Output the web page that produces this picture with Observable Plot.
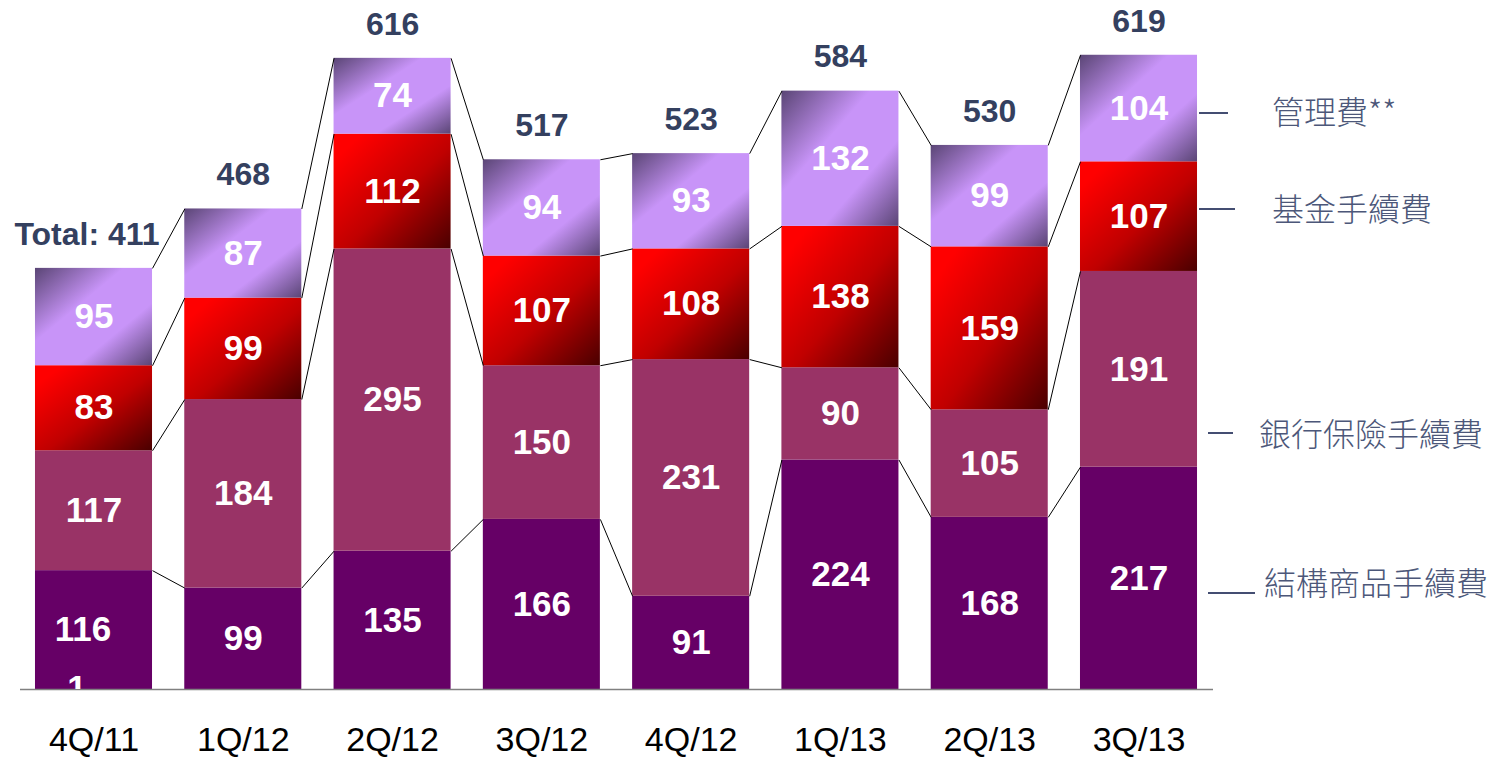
<!DOCTYPE html>
<html>
<head>
<meta charset="utf-8">
<script src="https://cdn.jsdelivr.net/npm/d3@7"></script>
<script src="https://cdn.jsdelivr.net/npm/@observablehq/plot@0.6"></script>
<style>
  html, body { margin: 0; padding: 0; background: #fff; }
  #wrap { position: relative; width: 1490px; height: 757px; overflow: hidden; }
  .lg { position: absolute; font-family: "Noto Sans CJK TC", "Noto Sans CJK SC", sans-serif; font-size: 32px; font-weight: 300; color: #4c5779; line-height: 1; transform: translateY(-50%); white-space: nowrap; }
  .dash { position: absolute; border-top: 2px solid #444e72; height: 0; }
</style>
</head>
<body>
<div id="wrap"></div>
<script>
// ---- data ----
const quarters = ["4Q/11", "1Q/12", "2Q/12", "3Q/12", "4Q/12", "1Q/13", "2Q/13", "3Q/13"];
const seriesNames = ["結構商品手續費", "銀行保險手續費", "基金手續費", "管理費**"];
const structured = [116, 99, 135, 166, 91, 224, 168, 217];
const bancassurance = [117, 184, 295, 150, 231, 90, 105, 191];
const fundFees = [83, 99, 112, 107, 108, 138, 159, 107];
const mgmtFees = [95, 87, 74, 94, 93, 132, 99, 104];
const totals = [411, 468, 616, 517, 523, 584, 530, 619];

// ---- derived tables ----
const seriesValues = [structured, bancassurance, fundFees, mgmtFees];
const fills = ["#660066", "#993366", "url(#gradRed)", "url(#gradPurple)"];
const W = 0.784;      // bar width as fraction of step
const STEP = 149.3;   // px per category (for small pixel nudges)
const rows = [];
const cum = quarters.map(() => [0]);
quarters.forEach((q, i) => {
  let acc = 0;
  seriesValues.forEach((vals, s) => {
    const v = vals[i];
    rows.push({i, s, q, v, y1: acc, y2: acc + v, fill: fills[s]});
    acc += v;
    cum[i].push(acc);
  });
});
const links = [];
for (let i = 0; i < quarters.length - 1; i++) {
  for (let k = 1; k <= 4; k++) {
    links.push({x1: i + W / 2, x2: i + 1 - W / 2, y1: cum[i][k], y2: cum[i + 1][k]});
  }
}
const totalRows = quarters.map((q, i) => ({i, top: cum[i][4], label: i === 0 ? `Total: ${totals[i]}` : String(totals[i])}));

const defs = () => {
  const d = d3.create("svg:defs");
  const r = d.append("linearGradient").attr("id", "gradRed").attr("x1", 0).attr("y1", 0).attr("x2", 1).attr("y2", 1);
  r.append("stop").attr("offset", 0.12).attr("stop-color", "#ff0000");
  r.append("stop").attr("offset", 0.55).attr("stop-color", "#c00000");
  r.append("stop").attr("offset", 1).attr("stop-color", "#4a0000");
  const p = d.append("linearGradient").attr("id", "gradPurple").attr("x1", 0).attr("y1", 0).attr("x2", 1).attr("y2", 1);
  p.append("stop").attr("offset", 0).attr("stop-color", "#5a4575");
  p.append("stop").attr("offset", 0.38).attr("stop-color", "#c894f8");
  p.append("stop").attr("offset", 0.68).attr("stop-color", "#c894f8");
  p.append("stop").attr("offset", 1).attr("stop-color", "#5a4575");
  return d.node();
};

const font = "'Liberation Sans', Arial, sans-serif";
const chart = Plot.plot({
  width: 1490,
  height: 757,
  marginLeft: 20,
  marginRight: 277,
  marginTop: 23,
  marginBottom: 68,
  style: {fontFamily: font, background: "transparent"},
  x: {domain: [0, 7], range: [93.5, 1138.5], axis: null},
  y: {domain: [0, 650], axis: null},
  marks: [
    defs,
    Plot.rect(rows, {x1: d => d.i - W / 2, x2: d => d.i + W / 2, y1: "y1", y2: "y2", fill: "fill"}),
    Plot.link(links, {x1: "x1", x2: "x2", y1: "y1", y2: "y2", stroke: "#000", strokeWidth: 1}),
    Plot.ruleY([0], {stroke: "#808080", strokeWidth: 1.5}),
    Plot.text(rows, {x: d => d.i - (d.i === 0 && d.s === 0 ? 11 / STEP : 0), y: d => (d.y1 + d.y2) / 2,
      text: d => String(d.v), fill: "#fff", fontSize: 35, fontWeight: "bold"}),
    Plot.text([0], {x: () => -17 / STEP, y: () => 0, text: () => "1", fill: "#fff", fontSize: 35, fontWeight: "bold", dy: -1, clip: true}),
    Plot.text(totalRows, {x: d => d.i - (d.i === 0 ? 7 / STEP : 0), y: "top", text: "label", fill: "#34405f", fontSize: 32, fontWeight: "bold", dy: -34}),
    Plot.text(quarters, {x: (d, i) => i, y: () => 0, text: d => d, fill: "#000", fontSize: 34, dy: 51})
  ]
});
const wrap = document.getElementById("wrap");
wrap.appendChild(chart);

// legend
const legendItems = [
  {name: seriesNames[3], tx: 1272, ty: 110, lx: 1199, lw: 29, ly: 112},
  {name: seriesNames[2], tx: 1272, ty: 207, lx: 1199, lw: 36, ly: 208},
  {name: seriesNames[1], tx: 1259, ty: 432, lx: 1208, lw: 25, ly: 432},
  {name: seriesNames[0], tx: 1264, ty: 581, lx: 1208, lw: 47, ly: 592}
];
legendItems.forEach(it => {
  const t = document.createElement("div");
  t.className = "lg"; t.textContent = it.name;
  t.style.left = it.tx + "px"; t.style.top = it.ty + "px";
  wrap.appendChild(t);
  const l = document.createElement("div");
  l.className = "dash";
  l.style.left = it.lx + "px"; l.style.top = it.ly + "px"; l.style.width = it.lw + "px";
  wrap.appendChild(l);
});
</script>
</body>
</html>
